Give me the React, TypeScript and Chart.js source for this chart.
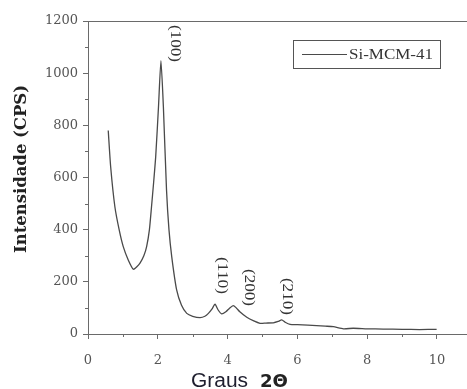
import React, { useEffect, useRef } from "react";
import { Chart, registerables } from "chart.js";

Chart.register(...registerables);

const twoTheta = [0.58, 0.65, 0.77, 0.9, 1.01, 1.15, 1.3, 1.4, 1.49, 1.6, 1.68, 1.76, 1.82, 1.88, 1.94, 2.02, 2.09, 2.16, 2.25, 2.32, 2.4, 2.54, 2.68, 2.83, 3.0, 3.21, 3.35, 3.45, 3.55, 3.64, 3.73, 3.83, 3.95, 4.05, 4.16, 4.25, 4.35, 4.55, 4.75, 4.93, 5.1, 5.31, 5.45, 5.55, 5.65, 5.79, 6.0, 6.3, 6.55, 6.8, 7.03, 7.32, 7.6, 8.0, 8.46, 9.0, 9.5, 9.99];
const intensity = [780, 640, 488, 395, 335, 285, 248, 258, 272, 300, 335, 400, 488, 580, 680, 871, 1048, 871, 552, 400, 296, 169, 110, 79, 68, 63, 68, 79, 95, 114, 92, 77, 85, 98, 109, 100, 85, 64, 50, 41, 42, 43, 48, 54, 45, 37, 36, 34, 32, 30, 28, 20, 22, 20, 19, 18, 17, 18];

const xTicks = [0, 1, 2, 3, 4, 5, 6, 7, 8, 9, 10];
const yTicks = [0, 100, 200, 300, 400, 500, 600, 700, 800, 900, 1000, 1100, 1200];

const peakLabels = ["(100)", "(110)", "(200)", "(210)"];
const peakX = [2.49, 3.84, 4.61, 5.7];
const peakY = [1185, 295, 249, 215];

const seriesName = "Si-MCM-41";
const yTitle = "Intensidade (CPS)";
const xTitleA = "Graus";
const xTitleB = "2Θ";

const AXIS = "#6a6a6a";
const LINE = "#4a4a4a";
const TEXT = "#555555";
const SERIF = "'Liberation Serif', 'DejaVu Serif', serif";
const WSERIF = "'DejaVu Serif', serif";

function fitText(ctx: any, text: string, x: number, y: number, target: number) {
  const w = ctx.measureText(text).width;
  ctx.save();
  ctx.translate(x, y);
  ctx.scale(target / w, 1);
  ctx.fillText(text, 0, 0);
  ctx.restore();
}

const decorPlugin = {
  id: "decor",
  afterDraw(chart: any) {
    const ctx = chart.ctx;
    const area = chart.chartArea;
    const xs = chart.scales.x;
    const ys = chart.scales.y;
    ctx.save();
    ctx.strokeStyle = AXIS;
    ctx.lineWidth = 1;
    ctx.beginPath();
    ctx.moveTo(area.left, Math.round(area.top) + 0.5);
    ctx.lineTo(area.right, Math.round(area.top) + 0.5);
    ctx.stroke();
    ctx.beginPath();
    for (const v of xTicks) {
      if (v % 2 === 1) {
        const px = Math.round(xs.getPixelForValue(v)) + 0.5;
        ctx.moveTo(px, area.bottom);
        ctx.lineTo(px, area.bottom + 3);
      }
    }
    for (const v of yTicks) {
      if (v % 200 === 100) {
        const py = Math.round(ys.getPixelForValue(v)) + 0.5;
        ctx.moveTo(area.left, py);
        ctx.lineTo(area.left - 3, py);
      }
    }
    ctx.stroke();

    // peak labels (rotated)
    ctx.fillStyle = "#333";
    ctx.font = `14px ${SERIF}`;
    ctx.textAlign = "left";
    ctx.textBaseline = "middle";
    peakLabels.forEach((lab, i) => {
      const px = xs.getPixelForValue(peakX[i]);
      const py = ys.getPixelForValue(peakY[i]);
      ctx.save();
      ctx.translate(px, py);
      ctx.rotate(Math.PI / 2);
      fitText(ctx, lab, 0, 0, 37);
      ctx.restore();
    });

    // legend box
    const lx = 293, ly = 40, lw = 147, lh = 28;
    ctx.strokeStyle = "#555";
    ctx.lineWidth = 1;
    ctx.strokeRect(lx + 0.5, ly + 0.5, lw, lh);
    ctx.strokeStyle = LINE;
    ctx.beginPath();
    ctx.moveTo(lx + 9, ly + 14.5);
    ctx.lineTo(lx + 54, ly + 14.5);
    ctx.stroke();
    ctx.fillStyle = "#333";
    ctx.font = `15px ${SERIF}`;
    ctx.textAlign = "left";
    ctx.textBaseline = "middle";
    fitText(ctx, seriesName, lx + 56, ly + 15, 84);

    // y title
    ctx.save();
    ctx.translate(22, 169);
    ctx.rotate(-Math.PI / 2);
    ctx.fillStyle = "#222";
    ctx.font = `bold 16px ${WSERIF}`;
    ctx.textAlign = "left";
    ctx.textBaseline = "middle";
    fitText(ctx, yTitle, -84, 0, 168);
    ctx.restore();

    // x title
    ctx.fillStyle = "#1e1e2e";
    ctx.textBaseline = "alphabetic";
    ctx.textAlign = "left";
    ctx.font = "20px 'Liberation Sans', Arial, sans-serif";
    fitText(ctx, xTitleA, 191, 387, 57);
    ctx.font = "bold 17px 'DejaVu Sans', sans-serif";
    ctx.fillStyle = "#222";
    fitText(ctx, xTitleB, 260, 387, 28);
    ctx.restore();
  },
};

export default function App() {
  const ref = useRef<HTMLCanvasElement>(null);
  useEffect(() => {
    if (!ref.current) return;
    const chart = new Chart(ref.current, {
      type: "line",
      data: {
        datasets: [
          {
            label: seriesName,
            data: twoTheta.map((x, i) => ({ x, y: intensity[i] })),
            borderColor: LINE,
            borderWidth: 1.3,
            pointRadius: 0,
            tension: 0.2,
            fill: false,
          },
        ],
      },
      options: {
        animation: false,
        responsive: false,
        maintainAspectRatio: false,
        layout: { padding: { top: 21, right: 0, left: 0, bottom: 0 } },
        plugins: { legend: { display: false }, tooltip: { enabled: false } },
        scales: {
          x: {
            type: "linear",
            min: 0,
            max: 10.86,
            afterBuildTicks: (s: any) => {
              s.ticks = xTicks.map((v) => ({ value: v }));
            },
            afterFit: (s: any) => {
              s.height = 55;
            },
            ticks: {
              color: TEXT,
              font: { family: WSERIF, size: 13 },
              padding: 14,
              maxRotation: 0,
              autoSkip: false,
              callback: (v: any) => (Number(v) % 2 === 0 ? String(v) : ""),
            },
            grid: {
              drawOnChartArea: false,
              tickLength: 5,
              tickColor: (c: any) => (c.tick && c.tick.value % 2 === 1 ? "rgba(0,0,0,0)" : AXIS),
            },
            border: { color: AXIS, width: 1 },
          },
          y: {
            min: 0,
            max: 1200,
            afterBuildTicks: (s: any) => {
              s.ticks = yTicks.map((v) => ({ value: v }));
            },
            afterFit: (s: any) => {
              s.width = 88;
            },
            ticks: {
              color: TEXT,
              font: { family: WSERIF, size: 13 },
              padding: 5,
              autoSkip: false,
              callback: (v: any) => (Number(v) % 200 === 0 ? String(v) : ""),
            },
            grid: {
              drawOnChartArea: false,
              tickLength: 5,
              tickColor: (c: any) => (c.tick && c.tick.value % 200 === 100 ? "rgba(0,0,0,0)" : AXIS),
            },
            border: { color: AXIS, width: 1 },
          },
        },
      },
      plugins: [decorPlugin],
    });
    return () => chart.destroy();
  }, []);
  return (
    <div style={{ position: "absolute", left: 0, top: 0, width: 467, height: 389, background: "#fff" }}>
      <canvas ref={ref} width={467} height={389} style={{ display: "block" }} />
    </div>
  );
}
